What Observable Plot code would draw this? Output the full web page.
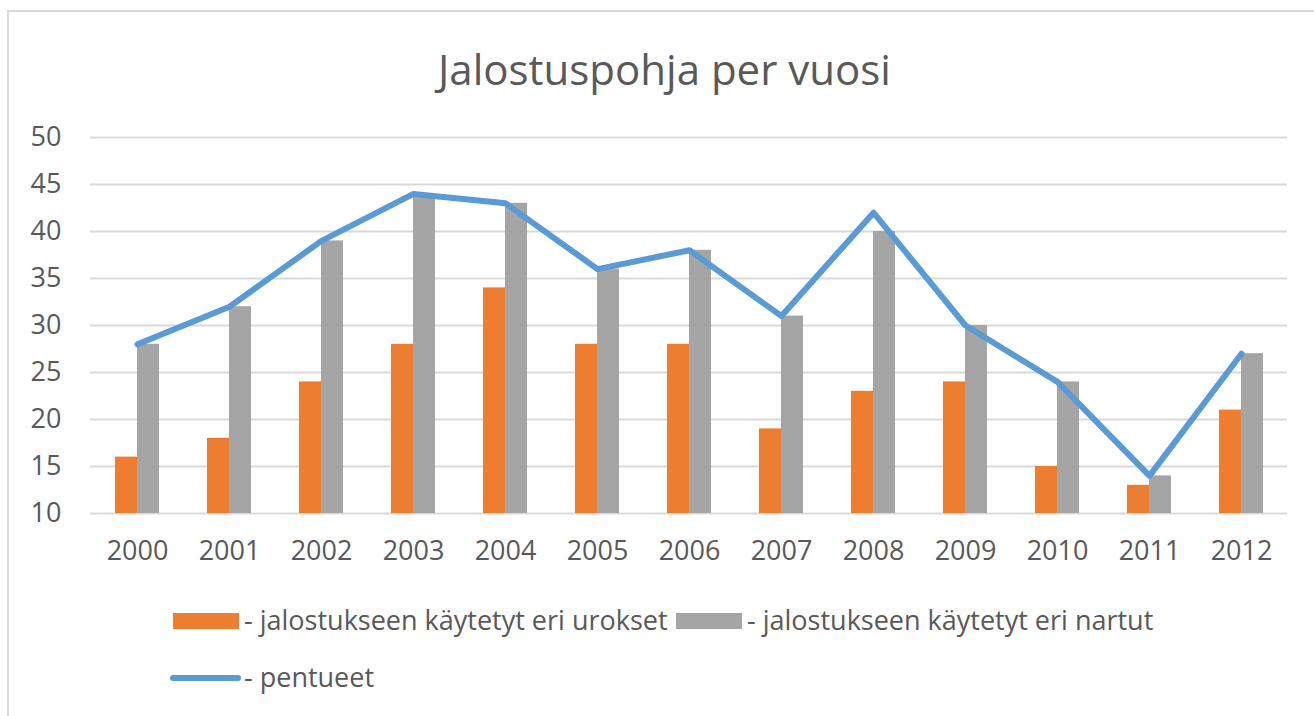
<!DOCTYPE html>
<html>
<head>
<meta charset="utf-8">
<script src="https://cdn.jsdelivr.net/npm/d3@7"></script>
<script src="https://cdn.jsdelivr.net/npm/@observablehq/plot@0.6"></script>
<style>
  html, body { margin: 0; padding: 0; background: #fff; }
  #wrap { position: relative; width: 1314px; height: 716px; overflow: hidden; background: #fff; font-family: "Open Sans", sans-serif; color: #595959; }
  #frame { position: absolute; left: 7px; top: 10px; width: 1400px; height: 800px; border: 2px solid #d9d9d9; box-sizing: border-box; }
  #chart { position: absolute; left: 0; top: 0; }
  .title { position: absolute; left: 0; width: 1329px; top: 48px; text-align: center; font-size: 42px; line-height: 42px; white-space: nowrap; }
  .leg { position: absolute; font-size: 27px; line-height: 27px; white-space: nowrap; }
  .sw { position: absolute; }
</style>
</head>
<body>
<div id="wrap">
  <div id="frame"></div>
  <div id="chart"></div>
  <div class="title">Jalostuspohja per vuosi</div>
  <div class="sw" style="left:173px;top:613px;width:66px;height:16px;background:#ED7D31"></div>
  <div class="leg" style="left:244px;top:606px">- jalostukseen käytetyt eri urokset</div>
  <div class="sw" style="left:676px;top:613px;width:66px;height:16px;background:#A5A5A5"></div>
  <div class="leg" style="left:747px;top:606px">- jalostukseen käytetyt eri nartut</div>
  <div class="sw" style="left:170px;top:675px;width:71px;height:6px;border-radius:3px;background:#5B9BD5"></div>
  <div class="leg" style="left:244px;top:663px">- pentueet</div>
</div>
<script>
const years = ["2000","2001","2002","2003","2004","2005","2006","2007","2008","2009","2010","2011","2012"];
const urokset = [16, 18, 24, 28, 34, 28, 28, 19, 23, 24, 15, 13, 21];
const nartut = [28, 32, 39, 44, 43, 36, 38, 31, 40, 30, 24, 14, 27];
const pentueet = [28, 32, 39, 44, 43, 36, 38, 31, 42, 30, 24, 14, 27];
const yTicks = [10, 15, 20, 25, 30, 35, 40, 45, 50];

const data = years.map((year, i) => ({year, urokset: urokset[i], nartut: nartut[i], pentueet: pentueet[i]}));

const chart = Plot.plot({
  width: 1314,
  height: 600,
  marginLeft: 90,
  marginRight: 27,
  marginTop: 137,
  marginBottom: 87,
  style: {fontFamily: "Open Sans", fontSize: "27px", color: "#595959", background: "transparent"},
  x: {type: "band", domain: years, padding: 0, label: null},
  y: {domain: [10, 50], label: null},
  marks: [
    Plot.ruleY(yTicks, {stroke: "#d9d9d9", strokeWidth: 2}),
    Plot.barY(data, {x: "year", y1: 10, y2: "urokset", fill: "#ED7D31", insetLeft: 24, insetRight: 46}),
    Plot.barY(data, {x: "year", y1: 10, y2: "nartut", fill: "#A5A5A5", insetLeft: 46, insetRight: 24}),
    Plot.line(data, {x: "year", y: "pentueet", stroke: "#5B9BD5", strokeWidth: 6, strokeLinejoin: "round", strokeLinecap: "round"}),
    Plot.axisX({tickSize: 0, tickPadding: 27, fontSize: 27, label: null}),
    Plot.axisY({ticks: yTicks, tickSize: 0, tickPadding: 29, fontSize: 27, label: null})
  ]
});
document.getElementById("chart").appendChild(chart);
</script>
</body>
</html>
